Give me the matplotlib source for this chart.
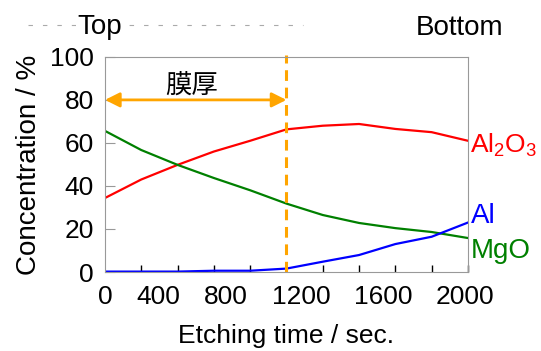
import matplotlib
matplotlib.use("Agg")
from matplotlib import pyplot as plt
from matplotlib.lines import Line2D
import numpy as np

plt.rcParams['font.family'] = ['Liberation Sans', 'Noto Sans CJK JP', 'DejaVu Sans']
plt.rcParams['mathtext.fontset'] = 'custom'
plt.rcParams['mathtext.rm'] = 'Liberation Sans'
plt.rcParams['mathtext.it'] = 'Liberation Sans'

# etching time (sec.)
t = [0, 200, 400, 600, 800, 1000, 1200, 1400, 1600, 1800, 2000]
al2o3 = [34.4, 43.0, 49.8, 56.0, 61.0, 66.3, 68.0, 68.8, 66.5, 65.0, 61.0]
mgo = [65.6, 56.7, 49.8, 43.7, 38.0, 31.8, 26.5, 22.8, 20.4, 18.6, 15.8]
al = [0.2, 0.2, 0.2, 0.6, 0.6, 1.6, 4.8, 7.9, 13.0, 16.4, 23.0]

# tick labels as drawn (not aligned with the tick marks in the original)
xlab = ['0', '400', '800', '1200', '1600', '2000']
xlab_pos = [0, 295, 665, 1080, 1535, 1985]
ylab = [0, 20, 40, 60, 80, 100]

film_end = 1000

fig = plt.figure(figsize=(5.41, 3.51), dpi=100)
ax = fig.add_axes([0.194, 0.225, 0.671, 0.613])

ax.plot(t, al2o3, color='#ff0000', lw=1.6)
ax.plot(t, mgo, color='#008000', lw=1.6)
ax.plot(t, al, color='#0000ff', lw=1.6)

ax.set_xlim(0, 2000)
ax.set_ylim(0, 100)

ax.set_xticks(xlab_pos, xlab)
ax.set_xticks(np.arange(0, 2001, 200), minor=True)
ax.tick_params(axis='x', which='major', length=0, labelsize=19, pad=9)
ax.tick_params(axis='x', which='minor', direction='in', length=5, color='black', width=1)
ax.set_yticks(ylab)
ax.tick_params(axis='y', direction='in', length=7, color='#999999', labelsize=19, pad=8)
for s in ax.spines.values():
    s.set_color('#999999')

ax.set_xlabel('Etching time / sec.', fontsize=19, labelpad=11)
ax.set_ylabel('Concentration / %', fontsize=20, labelpad=6)

# film thickness marker
ax.axvline(film_end, ymin=0, ymax=1.01, color='#ffa500', lw=2.2, dashes=(3.5, 2.2), clip_on=False)
ax.annotate('', xy=(0, 80), xytext=(film_end, 80),
            arrowprops=dict(arrowstyle='<|-|>', color='#ffa500', lw=2, mutation_scale=22,
                            shrinkA=0, shrinkB=0))
ax.text(480, 86.5, '膜厚', fontsize=19, ha='center', va='center')

# series labels
ax.text(2012, 55.3, 'Al$_2$O$_3$', color='#ff0000', fontsize=19, va='baseline', clip_on=False)
ax.text(2015, 22.8, 'Al', color='#0000ff', fontsize=20, va='baseline', clip_on=False)
ax.text(2015, 6.5, 'MgO', color='#008000', fontsize=20, va='baseline', clip_on=False)

# Top / Bottom header
fig.add_artist(Line2D([28 / 541, 303 / 541], [1 - 25 / 351, 1 - 25 / 351],
                      color='#aaaaaa', lw=0.8, ls=(0, (4, 9))))
fig.text(100 / 541, 1 - 27 / 351, 'Top', fontsize=20, ha='center', va='center',
         bbox=dict(facecolor='white', edgecolor='none', pad=1))
fig.text(460 / 541, 1 - 28 / 351, 'Bottom', fontsize=20, ha='center', va='center')

fig.savefig('out.png', dpi=100)
